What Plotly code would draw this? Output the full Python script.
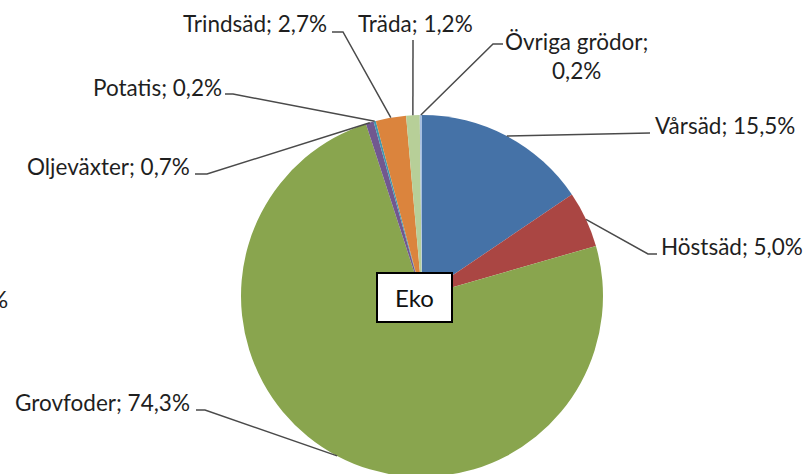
import math
import plotly.graph_objects as go

# ---- data ----
categories = ["Vårsäd", "Höstsäd", "Grovfoder", "Oljeväxter", "Potatis",
              "Trindsäd", "Träda", "Övriga grödor"]
shares = [15.5, 5.0, 74.3, 0.7, 0.2, 2.7, 1.2, 0.2]
center_label = "Eko"
cut_label = "%"

# ---- style ----
colors = ["#4572A7", "#AA4643", "#89A54E", "#71588F", "#4198AF",
          "#DB843D", "#B7CF98", "#A7BFE0"]
FONT = "Lato"
FS = 22.5
TXT = "#1f1f1f"
LINE = "#4a4a4a"

W, H = 807, 482
CX, CY, R = 422, 296, 181


def px(x):
    return x / W


def py(y):
    return 1 - y / H


# label placement (layout only): text anchor(s) + leader-line route on the label side
label_layout = [
    dict(tx=653, ty=[126], xa="left", pts=[(650, 133)]),
    dict(tx=659, ty=[247], xa="left", pts=[(648, 254), (657, 254)]),
    dict(tx=192, ty=[402], xa="right", pts=[(205, 410), (196, 410)]),
    dict(tx=192, ty=[166], xa="right", pts=[(207, 174), (195, 174)]),
    dict(tx=224, ty=[87], xa="right", pts=[(233, 94), (225, 94)]),
    dict(tx=329, ty=[23], xa="right", pts=[(343, 32), (332, 32)]),
    dict(tx=415, ty=[23], xa="center", pts=[(413, 40)]),
    dict(tx=576, ty=[41.5, 70.5], xa="center", pts=[(493, 44), (503, 44)]),
]


def fmt(v):
    return f"{v:.1f}".replace(".", ",") + "%"


fig = go.Figure(go.Pie(
    labels=categories,
    values=shares,
    sort=False,
    direction="clockwise",
    rotation=0,
    marker=dict(colors=colors, line=dict(width=0)),
    textinfo="none",
    hoverinfo="label+percent",
    showlegend=False,
    domain=dict(x=[px(CX - R), px(CX + R)], y=[py(CY + R), py(CY - R)]),
))

total = sum(shares)
cum = 0
annotations = []
shapes = []
for name, v, lay in zip(categories, shares, label_layout):
    ang = math.radians((cum + v / 2) / total * 360)
    cum += v
    ex, ey = CX + R * math.sin(ang), CY - R * math.cos(ang)
    pts = [(ex, ey)] + lay["pts"]
    path = "M " + " L ".join(f"{px(x)},{py(y)}" for x, y in pts)
    shapes.append(dict(type="path", xref="paper", yref="paper", path=path,
                       line=dict(color=LINE, width=1.5)))
    if len(lay["ty"]) == 1:
        lines = [f"{name}; {fmt(v)}"]
    else:
        lines = [f"{name};", fmt(v)]
    for t, ty in zip(lines, lay["ty"]):
        annotations.append(dict(x=px(lay["tx"]), y=py(ty), xref="paper", yref="paper",
                                text=t, showarrow=False, xanchor=lay["xa"], yanchor="middle",
                                font=dict(family=FONT, size=FS, color=TXT)))

# center box
shapes.append(dict(type="rect", xref="paper", yref="paper",
                   x0=px(377), x1=px(452), y0=py(322), y1=py(273),
                   fillcolor="white", line=dict(color="black", width=2)))
annotations.append(dict(x=px(414), y=py(297), xref="paper", yref="paper", text=center_label,
                        showarrow=False, xanchor="center", yanchor="middle",
                        font=dict(family=FONT, size=24, color="#111")))
annotations.append(dict(x=px(10), y=py(298), xref="paper", yref="paper", text=cut_label,
                        showarrow=False, xanchor="right", yanchor="middle",
                        font=dict(family=FONT, size=24, color=TXT)))

fig.update_layout(
    width=W, height=H,
    margin=dict(l=0, r=0, t=0, b=0),
    paper_bgcolor="white", plot_bgcolor="white",
    shapes=shapes, annotations=annotations,
)

fig.write_html("out.html", config={"displayModeBar": False},
               post_script="document.body.style.margin='0';document.body.style.overflow='hidden';")
